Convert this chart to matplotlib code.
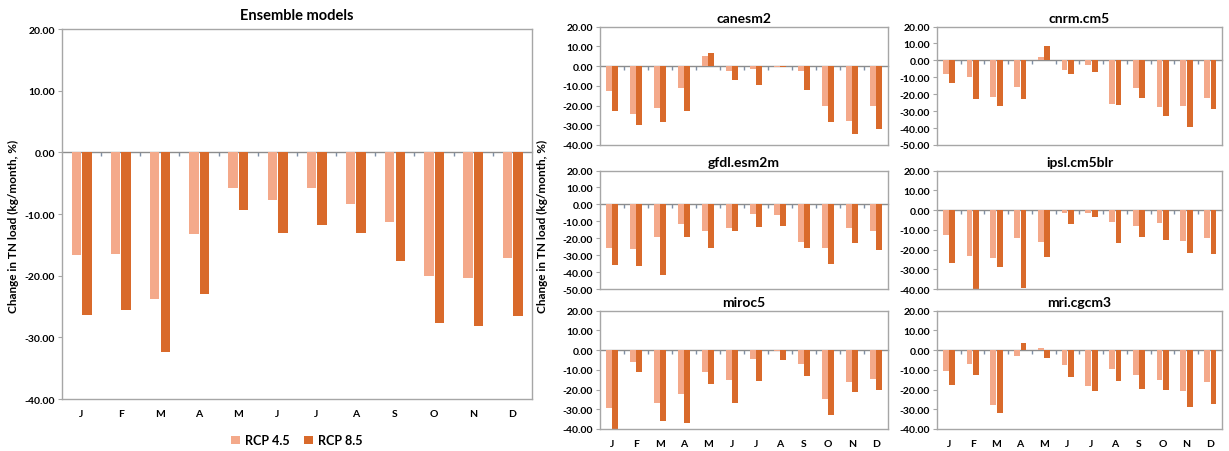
import matplotlib
matplotlib.use("Agg")
import matplotlib.pyplot as plt
from matplotlib.ticker import FormatStrFormatter
import numpy as np

plt.rcParams['font.family'] = ['Lato', 'DejaVu Sans']
plt.rcParams['font.weight'] = 'bold'

months = ["J", "F", "M", "A", "M", "J", "J", "A", "S", "O", "N", "D"]

ens_45 = [-16.7, -16.5, -23.8, -13.2, -5.8, -7.8, -5.8, -8.3, -11.3, -20.1, -20.4, -17.2]
ens_85 = [-26.3, -25.6, -32.4, -23.0, -9.3, -13.0, -11.8, -13.0, -17.6, -27.6, -28.2, -26.5]

canesm2_45 = [-12.5, -24.5, -21.5, -11.0, 5.0, -2.5, -1.5, -0.5, -2.5, -20.0, -28.0, -20.0]
canesm2_85 = [-23.0, -30.0, -28.5, -23.0, 6.5, -7.0, -9.5, -0.7, -12.0, -28.5, -34.5, -32.0]

cnrm_45 = [-8.0, -10.0, -21.5, -16.0, 2.0, -5.5, -2.5, -26.0, -16.5, -27.5, -27.0, -22.5]
cnrm_85 = [-13.5, -23.0, -27.0, -23.0, 8.5, -8.0, -7.0, -26.5, -22.0, -33.0, -39.5, -29.0]

gfdl_45 = [-26.0, -26.5, -19.0, -11.5, -16.0, -14.0, -5.5, -6.5, -22.0, -26.0, -14.0, -15.5]
gfdl_85 = [-36.0, -36.5, -42.0, -19.0, -26.0, -15.5, -13.5, -13.0, -25.5, -35.5, -23.0, -27.0]

ipsl_45 = [-12.5, -23.5, -24.5, -14.0, -16.0, -1.5, -1.5, -6.0, -8.0, -6.5, -15.5, -14.0]
ipsl_85 = [-27.0, -40.0, -29.0, -39.5, -24.0, -7.0, -3.5, -16.5, -13.5, -15.0, -22.0, -22.5]

miroc5_45 = [-29.5, -6.0, -27.0, -22.5, -11.0, -15.0, -4.5, -0.5, -7.0, -25.0, -16.0, -14.5]
miroc5_85 = [-40.0, -11.0, -36.0, -37.0, -17.0, -27.0, -15.5, -5.0, -13.0, -33.0, -21.5, -20.0]

mri_45 = [-10.5, -7.0, -28.0, -3.0, 1.0, -7.5, -18.0, -9.5, -12.5, -15.0, -21.0, -16.0]
mri_85 = [-17.5, -12.5, -32.0, 3.5, -4.0, -13.5, -21.0, -15.5, -19.5, -20.5, -29.0, -27.5]

c45 = "#F4A98A"
c85 = "#D96A2B"
frame = "#A6A6A6"
ylab = "Change in TN load (kg/month, %)"


def panel(ax, title, v45, v85, ymin, show_x, tick_fs=7.5, title_fs=10, pad=3):
    x = np.arange(len(months))
    ax.bar(x - 0.13, v45, width=0.24, color=c45, label="RCP 4.5", zorder=2)
    ax.bar(x + 0.14, v85, width=0.24, color=c85, label="RCP 8.5", zorder=2)
    ax.set_xlim(-0.5, len(months) - 0.5)
    ax.set_ylim(ymin, 20)
    ax.set_yticks(np.arange(ymin, 20.1, 10))
    ax.yaxis.set_major_formatter(FormatStrFormatter('%.2f'))
    ax.tick_params(axis='y', labelsize=tick_fs, length=3, color=frame, pad=2)
    ax.set_xticks(x)
    if show_x:
        ax.set_xticklabels(months, fontsize=tick_fs)
    else:
        ax.set_xticklabels([])
    ax.tick_params(axis='x', length=0, pad=7)
    for s in ax.spines.values():
        s.set_color(frame)
        s.set_linewidth(1)
    # zero axis with category ticks
    loc = (0 - ymin) / (20 - ymin)
    sec = ax.secondary_xaxis(loc)
    sec.xaxis.set_ticks_position('bottom')
    sec.set_xticks(np.arange(0.5, len(months) - 0.5, 1))
    sec.set_xticklabels([])
    sec.tick_params(length=3, color="#7F8FA6", width=1, direction='out')
    for s in sec.spines.values():
        s.set_color("#8C8C8C")
        s.set_linewidth(1)
    ax.set_title(title, fontsize=title_fs, fontweight='bold', pad=pad)


fig = plt.figure(figsize=(12.29, 4.52), dpi=100)

ax0 = fig.add_axes([0.0504, 0.115, 0.3824, 0.8186])
panel(ax0, "Ensemble models", ens_45, ens_85, -40, True, title_fs=10.5, pad=7)
ax0.legend(loc='upper center', bbox_to_anchor=(0.5, -0.065), ncol=2, frameon=False,
           fontsize=9, handlelength=0.7, handleheight=0.7, handletextpad=0.4, columnspacing=1.2)
fig.text(0.011, 0.50, ylab, rotation=90, ha='center', va='center', fontsize=8.5)

lx, rx = 0.4882, 0.7624
bottoms = [0.677, 0.3584, 0.0487]
h = 0.262
small = [
    (lx, bottoms[0], "canesm2", canesm2_45, canesm2_85, -40, False),
    (rx, bottoms[0], "cnrm.cm5", cnrm_45, cnrm_85, -50, False),
    (lx, bottoms[1], "gfdl.esm2m", gfdl_45, gfdl_85, -50, False),
    (rx, bottoms[1], "ipsl.cm5blr", ipsl_45, ipsl_85, -40, False),
    (lx, bottoms[2], "miroc5", miroc5_45, miroc5_85, -40, True),
    (rx, bottoms[2], "mri.cgcm3", mri_45, mri_85, -40, True),
]
for left, bottom, name, a, b, ymin, sx in small:
    w = 0.2343 if left == lx else 0.2319
    ax = fig.add_axes([left, bottom, w, h])
    panel(ax, name, a, b, ymin, sx)

fig.text(0.4418, 0.50, ylab, rotation=90, ha='center', va='center', fontsize=8.5)

fig.savefig("out.png", dpi=100)
